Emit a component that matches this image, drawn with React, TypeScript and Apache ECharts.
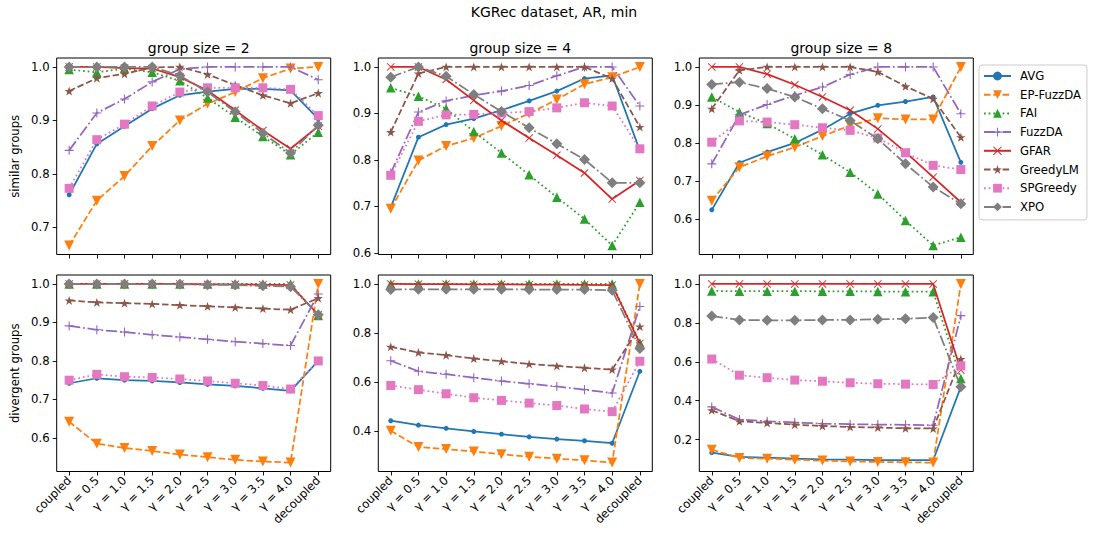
import React, { useEffect, useRef } from "react";
import * as echarts from "echarts";

const methods = ["AVG", "EP-FuzzDA", "FAI", "FuzzDA", "GFAR", "GreedyLM", "SPGreedy", "XPO"];
const xLabels = ["coupled", "γ = 0.5", "γ = 1.0", "γ = 1.5", "γ = 2.0", "γ = 2.5", "γ = 3.0", "γ = 3.5", "γ = 4.0", "decoupled"];
const xPositions = [0, 1, 2, 3, 4, 5, 6, 7, 8, 9];
const groupSizes = ["group size = 2", "group size = 4", "group size = 8"];
const rowNames = ["similar groups", "divergent groups"];

// rows in order of `methods`
const similarGs2 = [
  [0.761, 0.856, 0.889, 0.922, 0.947, 0.954, 0.959, 0.959, 0.956, 0.903],
  [0.666, 0.75, 0.796, 0.852, 0.9, 0.931, 0.953, 0.979, 0.997, 1.0],
  [0.995, 0.99, 0.997, 0.99, 0.974, 0.942, 0.906, 0.87, 0.836, 0.878],
  [0.844, 0.914, 0.94, 0.972, 0.996, 1.0, 1.0, 1.0, 1.0, 0.976],
  [1.0, 1.0, 0.998, 0.997, 0.981, 0.956, 0.919, 0.881, 0.847, 0.889],
  [0.955, 0.979, 0.987, 0.999, 1.0, 0.986, 0.966, 0.947, 0.932, 0.951],
  [0.773, 0.864, 0.893, 0.927, 0.953, 0.961, 0.961, 0.961, 0.958, 0.909],
  [1.0, 1.0, 1.0, 1.0, 0.984, 0.953, 0.916, 0.876, 0.839, 0.891],
];
const similarGs4 = [
  [0.698, 0.849, 0.876, 0.889, 0.907, 0.927, 0.948, 0.975, 0.982, 0.82],
  [0.695, 0.799, 0.83, 0.847, 0.873, 0.9, 0.93, 0.963, 0.978, 1.0],
  [0.955, 0.937, 0.91, 0.861, 0.815, 0.768, 0.72, 0.673, 0.616, 0.709],
  [0.772, 0.903, 0.927, 0.939, 0.948, 0.96, 0.981, 1.0, 1.0, 0.916],
  [1.0, 1.0, 0.973, 0.928, 0.885, 0.847, 0.81, 0.772, 0.716, 0.756],
  [0.86, 0.986, 1.0, 1.0, 1.0, 1.0, 1.0, 1.0, 0.975, 0.871],
  [0.767, 0.883, 0.897, 0.898, 0.901, 0.904, 0.912, 0.923, 0.916, 0.824],
  [0.978, 1.0, 0.98, 0.941, 0.904, 0.869, 0.835, 0.801, 0.751, 0.751],
];
const similarGs8 = [
  [0.624, 0.748, 0.776, 0.8, 0.835, 0.877, 0.899, 0.909, 0.921, 0.749],
  [0.648, 0.736, 0.765, 0.789, 0.818, 0.846, 0.865, 0.862, 0.862, 1.0],
  [0.921, 0.881, 0.851, 0.811, 0.769, 0.723, 0.666, 0.596, 0.53, 0.552],
  [0.745, 0.874, 0.901, 0.925, 0.947, 0.98, 1.0, 1.0, 1.0, 0.877],
  [1.0, 1.0, 0.981, 0.953, 0.921, 0.886, 0.837, 0.776, 0.71, 0.644],
  [0.89, 0.991, 1.0, 1.0, 1.0, 1.0, 0.987, 0.949, 0.916, 0.815],
  [0.802, 0.858, 0.855, 0.848, 0.84, 0.833, 0.813, 0.774, 0.741, 0.73],
  [0.954, 0.96, 0.943, 0.921, 0.89, 0.859, 0.811, 0.745, 0.684, 0.64],
];
const divergentGs2 = [
  [0.742, 0.755, 0.75, 0.748, 0.744, 0.739, 0.735, 0.729, 0.722, 0.8],
  [0.642, 0.585, 0.574, 0.566, 0.557, 0.55, 0.543, 0.539, 0.536, 1.0],
  [1.0, 1.0, 1.0, 1.0, 1.0, 1.0, 1.0, 1.0, 1.0, 0.918],
  [0.891, 0.881, 0.875, 0.868, 0.862, 0.856, 0.85, 0.845, 0.84, 0.974],
  [1.0, 1.0, 1.0, 1.0, 1.0, 0.999, 0.999, 0.998, 0.997, 0.92],
  [0.957, 0.952, 0.95, 0.948, 0.945, 0.942, 0.939, 0.936, 0.933, 0.963],
  [0.75, 0.765, 0.759, 0.757, 0.753, 0.748, 0.742, 0.736, 0.727, 0.8],
  [1.0, 1.0, 1.0, 1.0, 0.999, 0.998, 0.997, 0.995, 0.993, 0.92],
];
const divergentGs4 = [
  [0.441, 0.423, 0.41, 0.397, 0.386, 0.375, 0.366, 0.359, 0.349, 0.643],
  [0.4, 0.334, 0.325, 0.315, 0.304, 0.294, 0.286, 0.279, 0.27, 1.0],
  [1.0, 1.0, 1.0, 1.0, 1.0, 1.0, 1.0, 1.0, 1.0, 0.76],
  [0.686, 0.643, 0.631, 0.617, 0.603, 0.592, 0.581, 0.568, 0.554, 0.908],
  [1.0, 0.999, 0.999, 0.998, 0.998, 0.997, 0.997, 0.996, 0.995, 0.757],
  [0.743, 0.72, 0.709, 0.695, 0.684, 0.673, 0.665, 0.657, 0.65, 0.826],
  [0.585, 0.568, 0.551, 0.535, 0.524, 0.513, 0.503, 0.489, 0.478, 0.684],
  [0.977, 0.978, 0.978, 0.978, 0.978, 0.977, 0.977, 0.977, 0.974, 0.736],
];
const divergentGs8 = [
  [0.133, 0.111, 0.107, 0.102, 0.099, 0.097, 0.095, 0.095, 0.094, 0.471],
  [0.148, 0.106, 0.102, 0.097, 0.092, 0.088, 0.085, 0.083, 0.082, 1.0],
  [0.964, 0.963, 0.963, 0.963, 0.962, 0.962, 0.961, 0.96, 0.96, 0.514],
  [0.368, 0.303, 0.294, 0.288, 0.282, 0.279, 0.277, 0.276, 0.274, 0.837],
  [1.0, 1.0, 1.0, 1.0, 1.0, 1.0, 1.0, 1.0, 1.0, 0.557],
  [0.351, 0.294, 0.286, 0.277, 0.27, 0.265, 0.262, 0.258, 0.257, 0.614],
  [0.614, 0.531, 0.518, 0.506, 0.5, 0.492, 0.487, 0.485, 0.483, 0.579],
  [0.835, 0.815, 0.813, 0.813, 0.815, 0.815, 0.818, 0.821, 0.827, 0.471],
];

const panels = [similarGs2, similarGs4, similarGs8, divergentGs2, divergentGs4, divergentGs8];
const yTicks = [
  [0.7, 0.8, 0.9, 1.0],
  [0.6, 0.7, 0.8, 0.9, 1.0],
  [0.6, 0.7, 0.8, 0.9, 1.0],
  [0.6, 0.7, 0.8, 0.9, 1.0],
  [0.4, 0.6, 0.8, 1.0],
  [0.2, 0.4, 0.6, 0.8, 1.0],
];

const colors = ["#1f77b4", "#ff7f0e", "#2ca02c", "#9467bd", "#d62728", "#8c564b", "#e377c2", "#7f7f7f"];
const STAR = "path://M10,0 L12.245,6.91 L19.51,6.91 L13.63,11.18 L15.88,18.09 L10,13.82 L4.12,18.09 L6.37,11.18 L0.49,6.91 L7.755,6.91 Z";
const PLUS = "path://M8.8,0 H11.2 V8.8 H20 V11.2 H11.2 V20 H8.8 V11.2 H0 V8.8 H8.8 Z";
const CROSS = "path://M1.6,0 L10,8.4 L18.4,0 L20,1.6 L11.6,10 L20,18.4 L18.4,20 L10,11.6 L1.6,20 L0,18.4 L8.4,10 L0,1.6 Z";
const markers = [
  { symbol: "circle", size: 5, rotate: 0 },
  { symbol: "triangle", size: 10, rotate: 180 },
  { symbol: "triangle", size: 9.5, rotate: 0 },
  { symbol: PLUS, size: 9, rotate: 0 },
  { symbol: CROSS, size: 8, rotate: 0 },
  { symbol: STAR, size: 9.5, rotate: 0 },
  { symbol: "rect", size: 9, rotate: 0 },
  { symbol: "diamond", size: 11, rotate: 0 },
];
const dashes: any[] = [
  "solid",
  [6.5, 2.8],
  [1.75, 2.9],
  [11.2, 2.8, 1.75, 2.8],
  "solid",
  [6.5, 2.8],
  [1.75, 2.9],
  [11.2, 2.8, 1.75, 2.8],
];

const gridLefts = [56.7, 378.3, 699.3];
const gridTops = [58, 275];
const GRID_W = 274;
const GRID_H = 196.5;
const FONT = "DejaVu Sans";
const FS = 11.7;

export default function App() {
  const ref = useRef<HTMLDivElement>(null);
  useEffect(() => {
    if (!ref.current) return;
    const chart = echarts.init(ref.current, undefined, { renderer: "svg" });
    const grids: any[] = [];
    const xAxes: any[] = [];
    const yAxes: any[] = [];
    const series: any[] = [];
    panels.forEach((panel, p) => {
      const row = Math.floor(p / 3);
      const col = p % 3;
      grids.push({
        left: gridLefts[col],
        top: gridTops[row],
        width: GRID_W,
        height: GRID_H,
        show: true,
        borderColor: "#000",
        borderWidth: 1,
        backgroundColor: "#fff",
      });
      let lo = Infinity;
      let hi = -Infinity;
      panel.forEach((r) => r.forEach((v) => { lo = Math.min(lo, v); hi = Math.max(hi, v); }));
      const pad = (hi - lo) * 0.05;
      xAxes.push({
        type: "value",
        gridIndex: p,
        min: -0.45,
        max: 9.45,
        axisLine: { show: false, onZero: false },
        splitLine: { show: false },
        axisTick: { show: true, customValues: xPositions, length: 4, lineStyle: { color: "#000", width: 0.9 } },
        axisLabel: {
          show: row === 1,
          customValues: xPositions,
          rotate: 45,
          margin: 7,
          fontSize: FS,
          color: "#000",
          fontFamily: FONT,
          formatter: (v: number) => xLabels[Math.round(v)],
        },
      });
      yAxes.push({
        type: "value",
        gridIndex: p,
        min: lo - pad,
        max: hi + pad,
        axisLine: { show: false, onZero: false },
        splitLine: { show: false },
        axisTick: { show: true, customValues: yTicks[p], length: 4, lineStyle: { color: "#000", width: 0.9 } },
        axisLabel: {
          customValues: yTicks[p],
          margin: 7,
          fontSize: FS,
          color: "#000",
          fontFamily: FONT,
          formatter: (v: number) => v.toFixed(1),
        },
        name: col === 0 ? rowNames[row] : "",
        nameLocation: "middle",
        nameGap: 36,
        nameTextStyle: { fontSize: FS, color: "#000", fontFamily: FONT },
      });
      panel.forEach((vals, m) => {
        series.push({
          type: "line",
          name: methods[m],
          xAxisIndex: p,
          yAxisIndex: p,
          data: vals.map((v, i) => [xPositions[i], v]),
          symbol: markers[m].symbol,
          symbolSize: markers[m].size,
          symbolRotate: markers[m].rotate,
          symbolKeepAspect: true,
          showSymbol: true,
          lineStyle: { color: colors[m], width: 1.75, type: dashes[m] },
          itemStyle: { color: colors[m], borderWidth: 0 },
          emphasis: { disabled: true },
          z: 2 + m * 0.01,
        });
      });
    });
    const titles: any[] = [
      {
        text: "KGRec dataset, AR, min",
        left: 549,
        top: 0,
        textAlign: "center",
        textStyle: { fontSize: 14, fontWeight: "normal", color: "#000", fontFamily: FONT },
      },
    ];
    groupSizes.forEach((g, c) => {
      titles.push({
        text: g,
        left: gridLefts[c] + GRID_W / 2,
        top: 36,
        textAlign: "center",
        textStyle: { fontSize: 14, fontWeight: "normal", color: "#000", fontFamily: FONT },
      });
    });
    chart.setOption({
      animation: false,
      backgroundColor: "#fff",
      textStyle: { fontFamily: FONT },
      title: titles,
      legend: {
        data: methods,
        orient: "vertical",
        left: 979,
        top: 65,
        itemWidth: 27,
        itemHeight: 11,
        itemGap: 6.7,
        padding: [5, 6, 7, 4],
        borderColor: "#ccc",
        borderWidth: 1,
        borderRadius: 3,
        backgroundColor: "#fff",
        selectedMode: false,
        textStyle: { fontSize: FS, color: "#000", fontFamily: FONT, padding: [0, 0, 0, 4] },
      },
      grid: grids,
      xAxis: xAxes,
      yAxis: yAxes,
      series,
    });
    return () => chart.dispose();
  }, []);
  return <div ref={ref} style={{ width: 1094, height: 539, position: "absolute", left: 0, top: 0 }} />;
}
